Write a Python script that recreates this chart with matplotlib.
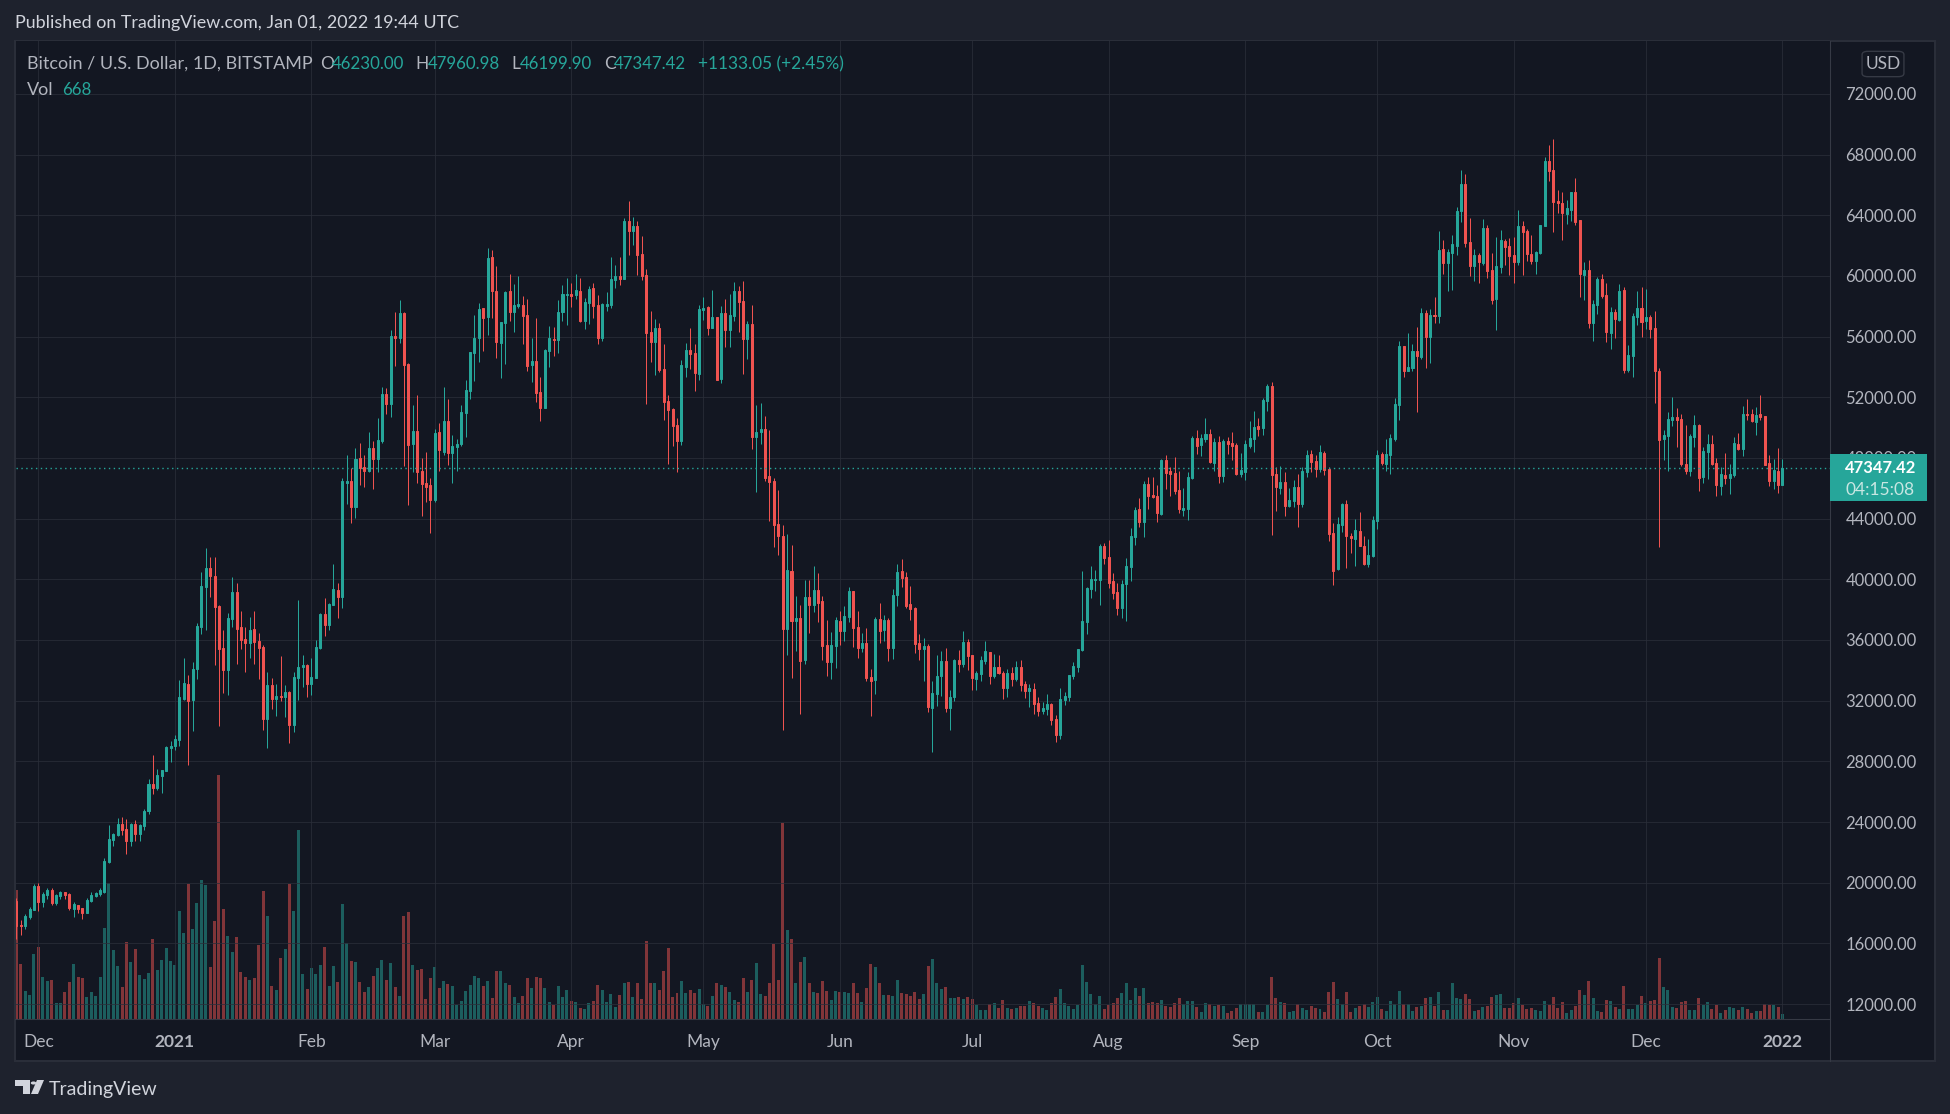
import matplotlib
matplotlib.use("Agg")
import matplotlib.pyplot as plt
import matplotlib.dates as mdates
import numpy as np
import pandas as pd
from matplotlib.patches import FancyBboxPatch, Polygon, Rectangle

# daily candles, bitstamp BTCUSD, 2020-11-26 to 2022-01-01
opens = [18793,17220,17142,17710,18200,19775,18716,19180,19515,18664,
19100,19410,19260,18270,18560,18330,17990,18820,19100,19260,
19410,21375,22820,23150,23880,23540,22770,23880,23230,23750,
24730,26510,26250,27020,27390,28910,29010,29420,32130,33090,
32050,34070,36850,39510,40720,40230,38250,35460,34040,37390,
39150,36880,36050,35800,36720,35920,35540,30820,33040,32110,
32290,32240,32570,30380,33470,34220,34330,33090,33470,35460,
37700,36980,38320,39280,38810,46370,46500,44790,48020,47430,
47160,48640,47930,49140,52220,51560,56060,55910,57580,54220,
48920,49780,47140,46330,46220,45250,49710,48420,50440,48350,
48720,48920,50970,52420,54920,55910,57890,57300,61250,59010,
55580,56900,59010,57630,58020,58090,57430,54130,54400,52350,
51300,55050,55850,55780,57630,58750,58810,58750,59010,57030,
58220,59210,58090,55910,58020,58090,59740,60000,59800,63630,
62970,63300,61450,60070,56310,55650,56570,53870,51760,51230,
50170,49120,54000,55120,54920,53540,57760,57960,56570,57300,
53210,57560,56440,57360,59010,58350,55850,56830,49380,49710,
49910,46810,46480,43650,42880,36750,40570,37270,37470,34700,
38860,38330,39320,38590,35690,34570,35630,37270,36610,37540,
39250,36880,35490,35820,33580,33380,37410,36680,37340,35490,
38990,40570,40170,38400,38130,35820,35430,35630,31540,32460,
33650,34640,31540,32260,34700,34440,35890,35030,33450,33780,
34640,35230,33650,34240,33850,32860,33850,33450,34240,33120,
32660,32790,31870,31340,31470,31800,30810,29760,32070,32260,
33650,34240,35360,37210,39380,39980,39980,42220,41490,39910,
39180,38130,39710,40830,42810,44660,43800,46310,45580,45520,
44330,47890,47160,47030,45910,44590,44660,46700,49340,48860,
49250,49580,47670,49050,46810,49120,48990,48860,46940,47080,
48790,49250,50110,49980,51760,52750,46940,46020,46420,44830,
45160,46090,44970,47080,48260,47800,47270,48330,47270,43050,
40680,43580,44970,42860,42660,43190,42200,41010,41540,43850,
48260,47600,48200,49250,51490,55370,53710,53910,55030,54630,
57540,55960,57410,57340,61760,60840,61490,61960,64260,66040,
62220,60640,61360,60840,63140,60380,58460,60570,62280,61960,
61360,60900,63270,62950,61430,60970,61490,63270,67560,66970,
64930,64790,64070,64330,65520,63670,60040,60370,56880,58070,
59780,58730,56240,57610,57070,59060,53780,54700,57280,57870,
57010,57280,56550,53710,49230,49430,50480,50680,50550,47580,
47120,49360,50150,46730,48370,48900,47650,46130,46850,46660,
46850,48900,48570,50880,50880,50350,50880,50750,47650,46460,
47120,46230]
closes = [17168,17168,17813,18250,19800,18716,19260,19515,18664,19180,
19410,19200,18330,18610,18270,17990,18870,19200,19310,19540,
21425,22870,23230,23880,23490,22770,23880,23230,23800,24730,
26510,26250,27100,27410,28960,29010,29470,32240,33160,31980,
34070,36900,39540,40720,40230,38200,35410,34040,37450,39150,
36750,36000,35800,36650,35870,35490,30820,33040,32130,32290,
32240,32570,30380,33550,34250,34330,33090,33550,35540,37700,
36980,38380,39330,38810,46460,46500,44790,47960,47360,47160,
48680,47930,49185,52220,51560,56040,55910,57560,54130,48860,
49780,47100,46310,46110,45250,49650,48530,50440,48350,48790,
48920,51030,52480,54990,55910,57820,57230,61190,59010,55650,
56970,58950,57630,58090,58150,57360,54070,54400,52290,51300,
55120,55910,55780,57630,58810,58790,58680,59080,57030,58290,
59140,58020,55910,58150,58150,59800,60000,59800,63630,62970,
63300,61380,60000,56240,55650,56570,53800,51690,51160,50110,
49120,54130,55120,54860,53600,57820,57890,56570,57300,53140,
57560,56440,57430,59010,58290,55850,56830,49380,49710,49910,
46680,46420,43580,42860,36750,40640,37270,37470,34640,38860,
38330,39320,38460,35630,34570,35690,37340,36610,37600,39250,
36810,35490,35820,33510,33320,37410,36610,37340,35490,38990,
40500,40110,38260,38060,35760,35430,35630,31600,32530,33650,
34640,31540,32260,34700,34440,35890,34970,33510,33850,34700,
35300,33650,34240,33850,32860,33850,33450,34240,33050,32660,
32860,31800,31340,31540,31800,30750,29760,32130,32330,33710,
34300,35430,37270,39450,40040,40040,42220,41430,39780,39120,
38130,39710,40900,42880,44590,43800,46310,45520,45450,44400,
47890,47030,46970,45850,44660,44730,46770,49340,48810,49320,
49580,47740,49050,46810,49120,48920,48790,46940,47210,48920,
49320,50040,49910,51820,52750,46880,46090,46420,44830,45230,
46090,44970,47140,48200,47740,47270,48390,47210,42990,40550,
43650,44970,42860,42720,43250,42200,41010,41600,43910,48200,
47670,48260,49320,51560,55370,53710,53980,55030,54700,57540,
55960,57410,57340,61700,60840,61560,62090,64260,66040,62150,
60640,61360,60900,63140,60310,58400,60640,62350,61890,61300,
60900,63270,62880,61430,60970,61560,63360,67560,66900,64860,
64790,64130,64460,65520,63540,60110,60370,56880,58130,59780,
58660,56290,57610,57140,58990,53780,54770,57340,57870,56940,
57280,56500,53710,49170,49490,50550,50680,50480,47580,47120,
49430,50150,46660,48440,48900,47630,46200,46920,46660,46920,
48970,48570,50880,50810,50420,50810,50680,47520,46460,47180,
46200,47347]
highs = [19000,17555,17916,18380,19930,19980,19410,19645,19620,19260,
19460,19410,19310,18716,18560,18330,18975,19410,19360,19620,
21630,23800,23280,24260,24310,24180,23930,24110,23880,24830,
26840,28390,27490,27410,29040,29350,29730,33350,34840,33680,
34530,37110,40460,42040,41450,41450,38300,36650,37810,40130,
39740,37940,36880,37500,37910,36440,35670,33890,33470,33090,
34940,33040,32620,33890,38630,35000,34430,34810,36030,37780,
38760,38430,41030,39740,46700,48220,47360,48680,49010,48220,
49740,49120,50640,52700,52610,56440,57630,58420,57630,54260,
51490,52150,47980,48400,46680,49910,50280,52680,51890,49520,
49250,51490,53140,54990,57400,58220,57890,61850,61710,60660,
56970,59010,60130,59470,60000,58680,58480,55910,57230,53340,
55180,56700,56640,58420,59410,59870,59540,60130,59870,58550,
59340,59540,58750,58220,58950,61250,60730,61250,63820,64950,
63890,63630,62640,60460,57690,57160,56900,55520,52150,51300,
50640,54460,55580,56570,55520,58090,58610,58020,59080,57300,
58020,58480,58810,59600,59340,59670,57030,58090,51490,51630,
50770,49850,46680,45890,43600,43010,42280,38920,38330,39980,
39980,40900,40440,38920,37340,36550,37540,37930,38260,39520,
39250,37930,36480,36810,34110,37540,38460,37670,37470,39380,
41030,41360,40500,39580,38200,36410,36150,35760,33320,35030,
35300,35490,32720,34770,35360,36610,36090,35030,33980,34970,
35960,35230,35100,35030,33980,34110,34240,34640,34700,33320,
33120,33190,32260,31930,32460,31870,31080,32860,32590,33710,
34570,35430,40570,39520,40900,40640,42330,42420,42620,40440,
39780,39980,41430,43410,44790,45380,46510,46770,46770,46240,
47960,48220,47430,48090,47160,46040,47100,49470,49870,49580,
50640,49910,49320,49450,49250,49380,49710,48990,48330,49190,
50440,51100,50640,51960,52880,53010,47410,47470,47080,46020,
46550,46940,47410,48530,48530,48200,48860,48460,47410,43710,
44110,45030,45230,43050,43980,44440,42860,42660,44180,48530,
48390,49250,49580,51960,55700,55370,56220,55540,56620,57870,
57740,57810,58610,62950,62360,61760,62700,64530,66990,66700,
63820,61760,61500,63740,63340,61500,62560,63010,62420,62480,
62560,64330,63600,63080,62680,61630,63360,67820,68620,69010,
65670,65520,64990,65520,66450,63670,60900,61050,58420,59920,
60110,59520,57940,57810,59450,59260,55430,57540,58990,59260,
59120,57410,57670,53910,49820,51010,52000,51270,50880,50150,
49560,50810,50220,48700,49560,49490,47980,47380,48310,47580,
49360,49630,51400,51870,51210,51340,52130,50750,48180,47910,
48640,47960]
lows = [16317,16523,16960,17607,18200,18124,18380,18900,18560,18535,
18950,18950,18225,17710,17970,17607,17990,18740,19050,19150,
19310,21300,22430,23100,23125,21915,22410,22770,22770,23490,
24520,25860,26120,25940,27390,27980,28780,29040,32050,27770,
29990,33450,36390,36650,38810,34380,30330,32490,32390,36830,
34430,35410,33910,34810,34430,33420,30070,28910,31460,30970,
32000,30950,29190,29940,32050,32880,32240,32360,33470,35380,
36260,36650,38320,37470,38120,44990,43740,44070,46240,46110,
47100,45980,47100,48970,50900,50720,54090,55600,47490,44920,
47100,46370,44170,45120,43070,45120,47160,48200,47540,46370,
47160,48790,49400,51890,53080,54330,55050,56110,57230,54590,
53270,54200,57030,56310,57890,55520,53740,53010,51690,50440,
51300,54000,54720,54920,57030,56770,57960,58480,56970,56500,
56830,57230,55520,55710,57690,57890,59210,59410,59800,61380,
62040,60070,59740,51560,54330,53470,53670,50500,47600,48790,
47080,48860,53340,53870,52420,53140,57100,56110,56570,53140,
52950,55320,55320,57030,56310,53540,54530,48590,45760,48920,
46480,43840,42130,41610,30090,35030,33510,35300,31140,34440,
36480,37870,37210,34700,33650,33450,34180,35690,35950,37210,
35560,34830,35230,33320,31010,32460,35820,35950,34640,34770,
38260,39520,38130,37340,35160,34700,33320,31270,28640,31670,
32330,31270,30090,32000,33910,34240,34040,32720,32720,33320,
34440,33120,33510,33780,32130,32260,32990,33320,32660,32200,
31600,31140,31010,31140,31080,30420,29300,29490,31730,32000,
33450,33910,35300,36420,38790,39250,38330,41030,39450,38720,
37670,37470,37270,39910,42290,43470,42810,44660,45380,43800,
44260,45980,45520,45650,44400,44200,43930,46640,48290,48130,
49050,47670,47140,46350,46420,48260,47870,46880,46750,46550,
48660,48390,49450,49520,51100,42920,44500,45630,44180,44770,
44770,43450,44770,46750,47080,46750,47080,46880,42530,39630,
40610,43120,40750,41740,40880,42200,40940,40810,41470,43320,
47540,47140,46940,49120,50500,53340,53710,53710,51030,54500,
53910,54260,56880,56880,60110,59010,59080,61360,63540,61890,
60000,59670,59540,60700,59870,58150,56440,60180,60720,60070,
59540,60720,60070,60970,60770,60110,61430,63270,66260,62900,
64130,62370,63410,63610,63350,58620,58410,56570,55700,57480,
58530,55630,55160,55900,57010,53600,53650,53340,56770,55960,
56500,55910,51600,42110,47840,47120,50090,48700,47470,46920,
46810,48720,45800,46330,46590,47520,45470,45540,46260,45600,
46720,48500,48110,50480,50350,49490,50480,47520,46150,45930,
45670,46200]
volumes = [17260,7370,3770,3240,8730,9620,5650,5125,5230,2140,
2140,3660,4970,7370,5650,5490,2980,3660,3090,5650,
12190,18200,9260,7110,4290,10300,7640,9360,5910,5390,
6170,10720,6590,7900,9520,7790,7270,14430,11510,18040,
12030,15530,18620,17940,6960,13130,32640,14750,11140,9000,
10980,6330,5650,5230,5490,9940,17100,13810,4450,3920,
8160,9360,18040,14430,25260,6070,4030,6850,6070,7270,
9620,4450,7110,4970,15380,10200,7790,7640,4970,3610,
4290,5750,6850,7900,5230,7530,4290,3090,13810,14330,
7210,6540,6675,2670,5520,6940,4140,5070,4670,4400,
1910,2400,3740,4540,5740,5470,4400,5070,2800,6410,
6410,4810,4540,2940,2140,3070,5470,4140,5610,5470,
4140,2270,1870,4400,2940,3870,2400,2270,1470,1335,
2140,2400,4540,3870,2270,3340,1600,3200,4810,4940,
2940,4810,2670,10410,4810,4810,3870,6410,9480,2940,
3470,5070,3470,3870,3470,4000,2000,1740,3070,4810,
4540,4270,3600,2540,2270,5470,3600,5210,7480,3340,
3070,4810,10010,5210,26190,11890,10680,4810,7610,8280,
4810,3600,3470,5070,3740,2540,3740,3600,3600,3470,
4810,3470,2270,4140,7340,6940,4810,3200,3200,3070,
5210,3470,3340,3070,3600,2670,3340,7080,8010,4810,
4000,4270,2800,2800,2940,2670,2940,2670,1870,1200,
1200,2000,2140,1470,2540,1470,1335,1470,1740,1740,
2400,2140,1740,1470,1200,2140,2940,4000,2140,1740,
1335,1870,7210,4940,3340,2000,3070,1335,1870,2140,
2800,3470,4810,2540,4140,3070,4140,2140,2270,2140,
2540,1740,1600,2140,2800,2000,2400,2400,1600,930,
2140,2000,1740,1870,1740,800,1070,1470,2000,2000,
2000,2000,930,930,1870,5610,2800,2270,2140,930,
1070,2000,1470,1200,1740,1470,1335,930,3600,4940,
2670,2000,3600,930,1470,1740,2000,1600,2270,2940,
1335,1070,2400,2000,3740,2000,2000,1070,1600,1740,
2800,2940,1740,3600,1200,1200,4810,2800,2670,3340,
2670,1070,1200,1600,1740,2940,3200,3340,1470,1470,
2140,2800,1870,1335,1470,1200,1070,2400,1870,2940,
1470,2270,800,1200,1740,3870,3200,5070,2800,1070,
930,2540,2400,1600,1335,4400,1335,1335,1870,3070,
2140,2400,2540,8140,4270,3870,1600,1470,2270,2400,
1200,1200,2800,1870,2270,1335,1870,800,1200,1600,
1470,1200,1600,1335,800,1070,1070,2000,1870,1870,
1600,668]

month_ticks = ["2020-12-01","2021-01-01","2021-02-01","2021-03-01","2021-04-01","2021-05-01",
               "2021-06-01","2021-07-01","2021-08-01","2021-09-01","2021-10-01","2021-11-01",
               "2021-12-01","2022-01-01"]
month_labels = ["Dec","2021","Feb","Mar","Apr","May","Jun","Jul","Aug","Sep","Oct","Nov","Dec","2022"]
price_ticks = list(range(12000, 72001, 4000))

UP = "#26a69a"
DOWN = "#ef5350"
BG = "#1e222d"
PANE = "#131722"
GRID = "#2a2e39"
TEXT = "#b2b5be"
W, H = 1950, 1114
FONT = "Lato"

plt.rcParams["font.family"] = [FONT, "DejaVu Sans"]

dates = pd.date_range("2020-11-26", periods=len(closes), freq="D")
x = mdates.date2num(dates)
o = np.array(opens)
c = np.array(closes)
up = c >= o


def fx(px):
    return px / W


def fy(py):
    return 1 - py / H


def rect(left, top, right, bottom):
    return [fx(left), fy(bottom), fx(right) - fx(left), fy(top) - fy(bottom)]


def put(px, py, s, color=TEXT, size=12, **kw):
    kw.setdefault("va", "center")
    fig.text(fx(px), fy(py), s, color=color, fontsize=size, **kw)


fig = plt.figure(figsize=(W / 100, H / 100), dpi=100, facecolor=BG)

# frame behind the panes
fig.add_artist(Rectangle((fx(15), fy(1061)), fx(1935) - fx(15), fy(41) - fy(1061),
                         transform=fig.transFigure, facecolor=PANE, edgecolor=GRID,
                         linewidth=1.5, zorder=-1))

box = rect(15.5, 41, 1830, 1019)
xlim = (x[0] - 0.2, x[0] + 411.8)

# volume sits under the candles, its tallest bar fills about a quarter of the pane
ax_vol = fig.add_axes(box, facecolor=PANE)
ax_vol.bar(x, volumes, width=0.68, color=np.where(up, UP, DOWN), alpha=0.5, linewidth=0)
ax_vol.set_xlim(xlim)
ax_vol.set_ylim(0, max(volumes) * 4)
ax_vol.set_yticks([])
ax_vol.set_xticks([])
for s in ax_vol.spines.values():
    s.set_visible(False)

ax = fig.add_axes(box)
ax.patch.set_visible(False)
ax.vlines(x[up], np.array(lows)[up], np.array(highs)[up], color=UP, linewidth=0.72)
ax.vlines(x[~up], np.array(lows)[~up], np.array(highs)[~up], color=DOWN, linewidth=0.72)
ax.bar(x, np.abs(c - o), bottom=np.minimum(o, c), width=0.46, color=np.where(up, UP, DOWN),
       edgecolor=np.where(up, UP, DOWN), linewidth=0.72, zorder=3)
ax.axhline(closes[-1], color=UP, linewidth=1, linestyle=(0, (1, 2.5)), zorder=4)

ax.set_xlim(xlim)
ax.set_ylim(11012, 75492)
ax.yaxis.tick_right()
ax.set_yticks(price_ticks)
ax.set_yticklabels(["%.2f" % p for p in price_ticks], color=TEXT, fontsize=12)
ax.set_xticks(mdates.date2num(pd.to_datetime(month_ticks)))
ax.set_xticklabels(month_labels, color=TEXT, fontsize=12.5)
for lab in ax.get_xticklabels():
    if lab.get_text() in ("2021", "2022"):
        lab.set_fontweight("bold")
ax.tick_params(axis="both", length=0)
ax.tick_params(axis="x", pad=11)
ax.tick_params(axis="y", pad=11)
ax.grid(True, color=GRID, linewidth=0.72, alpha=0.75)
ax.set_axisbelow(True)
for name, s in ax.spines.items():
    s.set_visible(name in ("right", "bottom"))
    s.set_color("#363a45")
    s.set_linewidth(0.8)

# separator of the price scale runs down through the time scale
fig.add_artist(plt.Line2D([fx(1830), fx(1830)], [fy(1019), fy(1061)], color="#363a45", linewidth=0.8))

# last price tag
fig.add_artist(FancyBboxPatch((fx(1830), fy(501.5)), fx(1927) - fx(1830), fy(454) - fy(501.5),
                              boxstyle="square,pad=0", transform=fig.transFigure,
                              facecolor=UP, edgecolor="none", zorder=2))
put(1845, 468, "47347.42", color="#ffffff", size=12, fontweight="bold", zorder=5)
put(1845, 490, "04:15:08", color="#c8e6e2", size=12.5, zorder=5)

# currency button
fig.add_artist(FancyBboxPatch((fx(1865), fy(75)), fx(1901) - fx(1865), fy(53) - fy(75),
                              boxstyle="round,pad=0.0015,rounding_size=0.003",
                              transform=fig.transFigure, facecolor="none",
                              edgecolor="#363a45", linewidth=1, zorder=2))
put(1883, 64, "USD", size=12.5, ha="center", zorder=5)

# header and legend
put(15, 23, "Published on TradingView.com, Jan 01, 2022 19:44 UTC", color="#d1d4dc", size=12.9)
put(27, 64, "Bitcoin / U.S. Dollar, 1D, BITSTAMP", size=13)
ohlc_x = [(320, "O", 332, "46230.00"), (415, "H", 428, "47960.98"),
          (511, "L", 520, "46199.90"), (604, "C", 614, "47347.42")]
for lx, letter, vx, val in ohlc_x:
    put(lx, 64, letter, size=12.5)
    put(vx, 64, val, color=UP, size=12.2)
put(698, 64, "+1133.05 (+2.45%)", color=UP, size=12.4)
put(27, 90, "Vol", size=13)
put(62, 90, "668", color=UP, size=12.2)

# footer logo
logo = "#d1d4dc"
fig.add_artist(Polygon([(fx(15), fy(1080)), (fx(30), fy(1080)), (fx(30), fy(1094)), (fx(23), fy(1094)),
                        (fx(23), fy(1086)), (fx(15), fy(1086))], transform=fig.transFigure,
                       facecolor=logo, edgecolor="none"))
fig.add_artist(plt.Circle((fx(33.5), fy(1083)), 0.0014, transform=fig.transFigure, facecolor=logo,
                          edgecolor="none"))
fig.add_artist(Polygon([(fx(37), fy(1080)), (fx(44), fy(1080)), (fx(38), fy(1094)), (fx(31), fy(1094))],
                       transform=fig.transFigure, facecolor=logo, edgecolor="none"))
put(49, 1090, "TradingView", color=logo, size=14)

fig.savefig("out.png", dpi=100, facecolor=BG)
